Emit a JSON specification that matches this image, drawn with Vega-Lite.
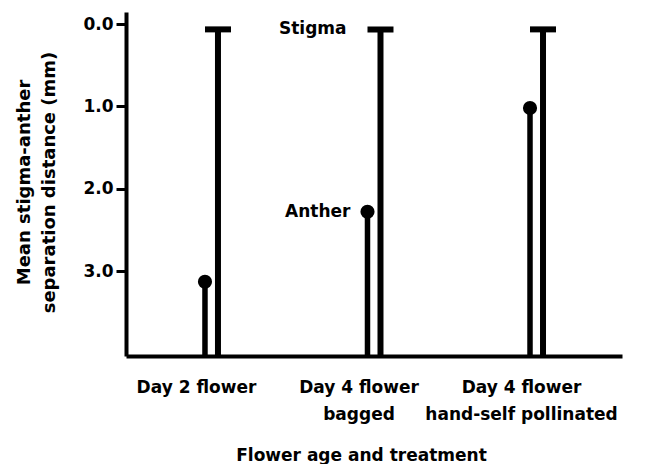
{
  "$schema": "https://vega.github.io/schema/vega-lite/v6.json",
  "autosize": {"type": "none"},
  "padding": {"left": 126, "top": 12, "right": 27, "bottom": 108},
  "width": 496,
  "height": 344,
  "background": "white",
  "config": {
    "view": {"stroke": null},
    "font": "DejaVu Sans",
    "axis": {
      "labelFont": "DejaVu Sans", "labelFontWeight": "bold", "labelFontSize": 17, "labelColor": "black",
      "titleFont": "DejaVu Sans", "titleFontWeight": "bold", "titleFontSize": 17, "titleColor": "black",
      "domainColor": "black", "tickColor": "black", "grid": false
    }
  },
  "data": {
    "values": [
      {"treatment": "Day 2 flower", "part": "Anther", "distance": 3.13},
      {"treatment": "Day 2 flower", "part": "Stigma", "distance": 0.065},
      {"treatment": "Day 4 flower|bagged", "part": "Anther", "distance": 2.28},
      {"treatment": "Day 4 flower|bagged", "part": "Stigma", "distance": 0.065},
      {"treatment": "Day 4 flower|hand-self pollinated", "part": "Anther", "distance": 1.02},
      {"treatment": "Day 4 flower|hand-self pollinated", "part": "Stigma", "distance": 0.065}
    ]
  },
  "encoding": {
    "x": {
      "field": "treatment", "type": "nominal", "sort": null,
      "scale": {"paddingInner": 0, "paddingOuter": 0.026},
      "axis": {
        "title": "Flower age and treatment",
        "labelExpr": "split(datum.label, '|')",
        "labelAngle": 0, "labelOffset": -15, "labelPadding": 23, "labelLineHeight": 27, "labelLimit": 400,
        "ticks": false, "domainWidth": 4,
        "titleX": 235, "titleY": 91, "titleBaseline": "top"
      }
    },
    "xOffset": {
      "field": "part", "type": "nominal",
      "scale": {"domain": ["Anther", "Stigma"], "paddingInner": 0, "paddingOuter": 0, "range": [68.25, 94.25]}
    },
    "y": {
      "field": "distance", "type": "quantitative",
      "scale": {"domain": [-0.146, 4.03], "reverse": true, "nice": false, "zero": false},
      "axis": {
        "title": ["Mean stigma-anther", "separation distance (mm)"],
        "values": [0, 1, 2, 3], "format": ".1f",
        "tickSize": 10, "tickWidth": 3, "domainWidth": 4, "labelPadding": 3,
        "titleFontSize": 18, "titleLineHeight": 25, "titleX": -93, "titleY": 170
      }
    }
  },
  "layer": [
    {
      "transform": [{"filter": "datum.part === 'Anther'"}],
      "mark": {"type": "rule", "strokeWidth": 5.5, "color": "black"},
      "encoding": {"y2": {"value": "height"}}
    },
    {
      "transform": [{"filter": "datum.part === 'Stigma'"}],
      "mark": {"type": "rule", "strokeWidth": 6, "color": "black"},
      "encoding": {"y2": {"value": "height"}}
    },
    {
      "transform": [{"filter": "datum.part === 'Anther'"}],
      "mark": {"type": "circle", "size": 200, "color": "black", "opacity": 1}
    },
    {
      "transform": [{"filter": "datum.part === 'Stigma'"}],
      "mark": {"type": "tick", "size": 26, "thickness": 6, "color": "black", "opacity": 1, "orient": "horizontal"}
    },
    {
      "transform": [{"filter": "datum.part === 'Stigma' && datum.treatment === 'Day 4 flower|bagged'"}],
      "mark": {"type": "text", "align": "right", "baseline": "middle", "dx": -34, "fontSize": 17, "fontWeight": "bold", "font": "DejaVu Sans", "color": "black"},
      "encoding": {"text": {"field": "part"}}
    },
    {
      "transform": [{"filter": "datum.part === 'Anther' && datum.treatment === 'Day 4 flower|bagged'"}],
      "mark": {"type": "text", "align": "right", "baseline": "middle", "dx": -17, "fontSize": 17, "fontWeight": "bold", "font": "DejaVu Sans", "color": "black"},
      "encoding": {"text": {"field": "part"}}
    }
  ]
}
